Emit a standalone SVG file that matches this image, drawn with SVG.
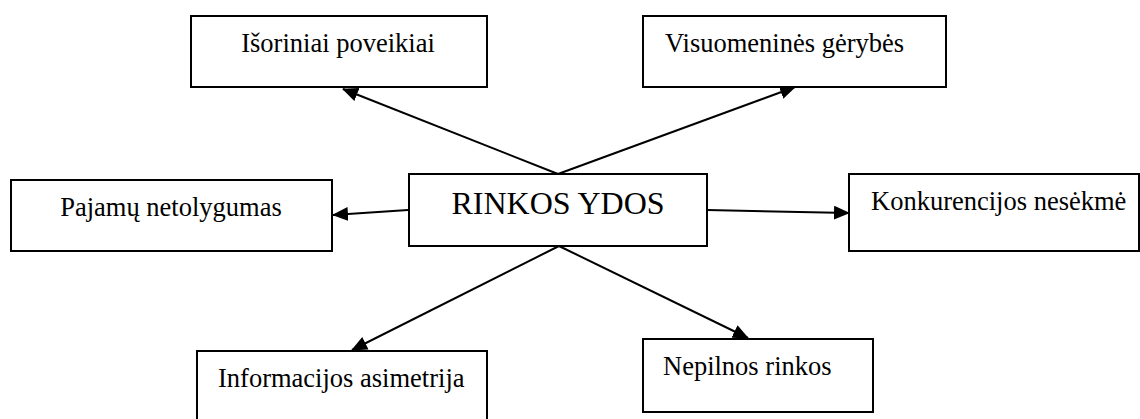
<svg xmlns="http://www.w3.org/2000/svg" width="1140" height="419" viewBox="0 0 1140 419">
  <style>
    .box { fill: #ffffff; stroke: #000000; stroke-width: 2; }
    .lbl { font-family: "Liberation Serif", "Times New Roman", serif; font-size: 26.5px; fill: #000000; }
    .title { font-family: "Liberation Serif", "Times New Roman", serif; font-size: 32px; fill: #000000; }
    .edge { stroke: #000000; stroke-width: 2; fill: none; marker-end: url(#arrow); }
  </style>
  <defs>
    <marker id="arrow" markerUnits="userSpaceOnUse" markerWidth="16" markerHeight="14" refX="15" refY="7" orient="auto">
      <path d="M0,0 L16,7 L0,14 Z" fill="#000000"/>
    </marker>
  </defs>
  <rect width="1140" height="419" fill="#ffffff"/>

  <g id="connectors">
    <line class="edge" x1="558" y1="174" x2="343" y2="89"/>
    <line class="edge" x1="558" y1="174" x2="795" y2="87"/>
    <line class="edge" x1="408" y1="210" x2="333" y2="215"/>
    <line class="edge" x1="707" y1="210" x2="849" y2="213"/>
    <line class="edge" x1="559" y1="246" x2="352" y2="350"/>
    <line class="edge" x1="559" y1="246" x2="748" y2="338"/>
  </g>

  <g id="node-center">
    <rect class="box" x="409" y="174" width="298" height="72"/>
    <text class="title" x="558" y="214" text-anchor="middle">RINKOS YDOS</text>
  </g>

  <g id="node-isoriniai">
    <rect class="box" x="191" y="16" width="296" height="71"/>
    <text class="lbl" x="338" y="52" text-anchor="middle">Išoriniai poveikiai</text>
  </g>

  <g id="node-visuomenines">
    <rect class="box" x="643" y="16" width="303" height="71"/>
    <text class="lbl" x="665" y="52">Visuomeninės gėrybės</text>
  </g>

  <g id="node-pajamu">
    <rect class="box" x="11" y="180" width="321" height="71"/>
    <text class="lbl" x="171" y="216" text-anchor="middle">Pajamų netolygumas</text>
  </g>

  <g id="node-konkurencijos">
    <rect class="box" x="849" y="174" width="290" height="77"/>
    <text class="lbl" x="871" y="210">Konkurencijos nesėkmė</text>
  </g>

  <g id="node-informacijos">
    <rect class="box" x="197" y="351" width="290" height="80"/>
    <text class="lbl" x="218" y="387">Informacijos asimetrija</text>
  </g>

  <g id="node-nepilnos">
    <rect class="box" x="643" y="339" width="230" height="73"/>
    <text class="lbl" x="663" y="375">Nepilnos rinkos</text>
  </g>
</svg>
